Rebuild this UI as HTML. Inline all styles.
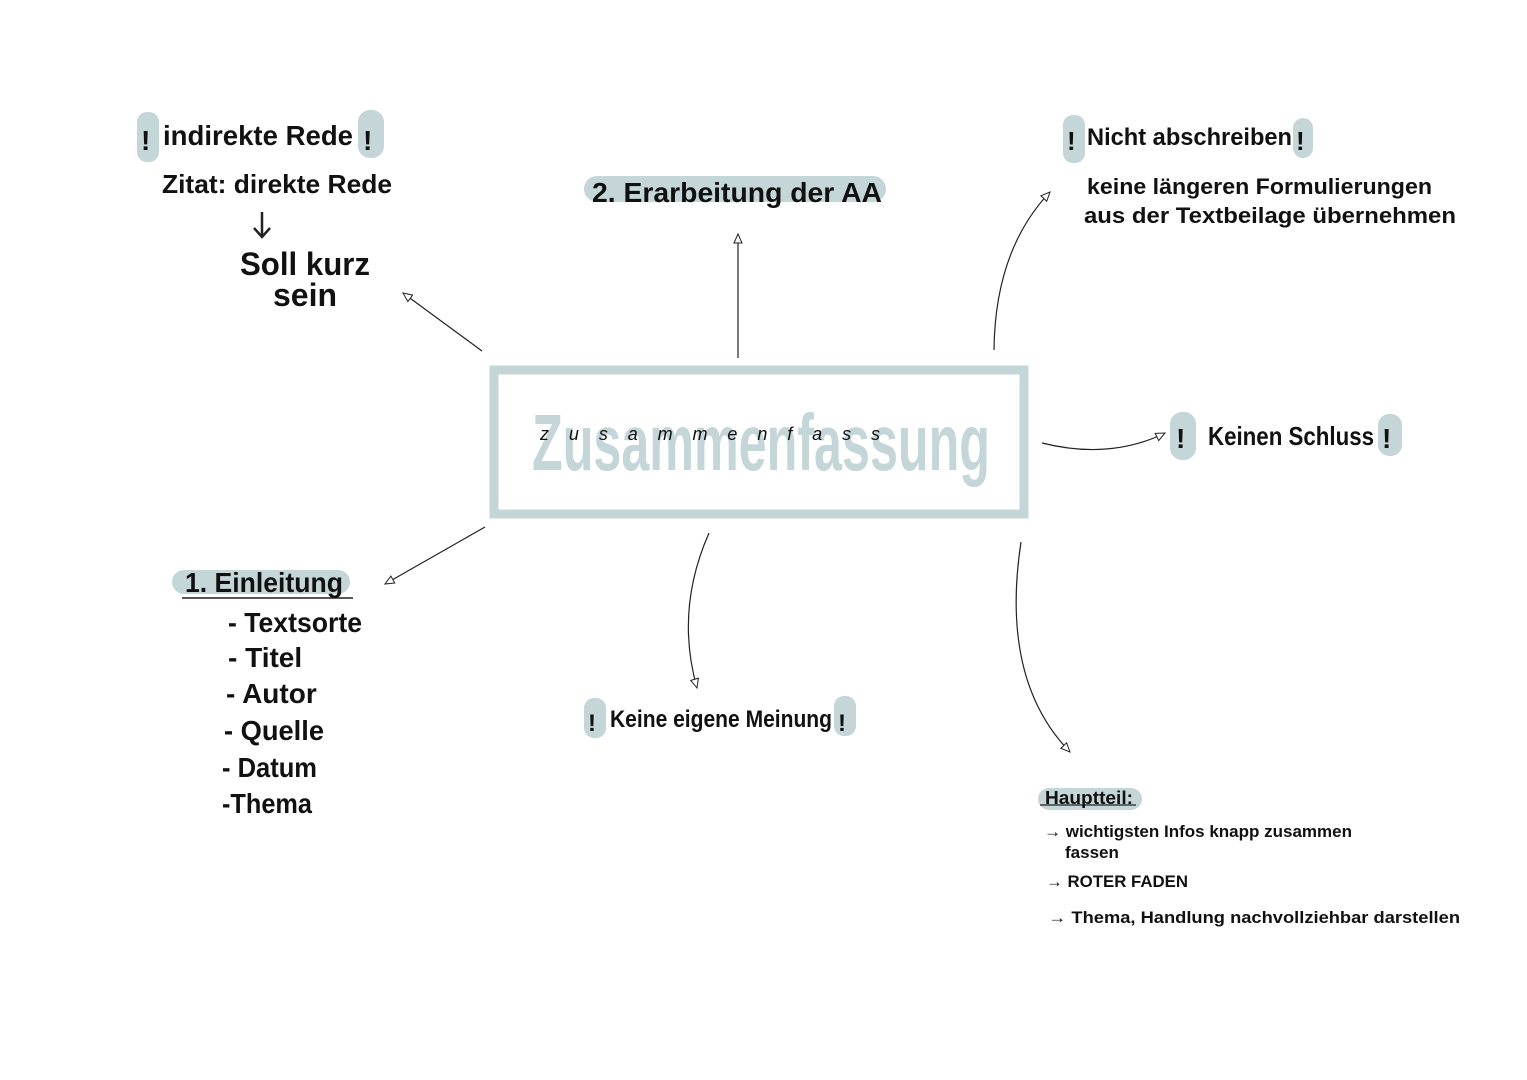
<!DOCTYPE html>
<html><head><meta charset="utf-8"><style>
html,body{margin:0;padding:0;background:#fff;}
svg{display:block}
text{font-family:"Liberation Sans",sans-serif;fill:#111;}
</style></head><body>
<svg width="1527" height="1080" viewBox="0 0 1527 1080" xmlns="http://www.w3.org/2000/svg">
<defs>
<marker id="a" markerWidth="12" markerHeight="12" refX="10" refY="5" orient="auto" markerUnits="userSpaceOnUse">
<path d="M1,1 L10,5 L1,9 Z" fill="#fff" stroke="#222" stroke-width="1"/></marker>
</defs>
<g fill="#c4d6d8">
<rect x="137" y="112" width="22" height="50" rx="10"/>
<rect x="358" y="110" width="26" height="48" rx="12"/>
<rect x="584" y="176" width="302" height="26" rx="13"/>
<rect x="1063" y="115" width="22" height="48" rx="10"/>
<rect x="1293" y="118" width="20" height="40" rx="10"/>
<rect x="1170" y="412" width="26" height="48" rx="12"/>
<rect x="1378" y="414" width="24" height="42" rx="11"/>
<rect x="172" y="570" width="178" height="24" rx="12"/>
<rect x="584" y="698" width="22" height="40" rx="10"/>
<rect x="834" y="696" width="22" height="40" rx="10"/>
<rect x="1038" y="788" width="104" height="22" rx="11"/>
</g>
<rect x="494" y="370" width="530" height="144" fill="none" stroke="#c4d6d8" stroke-width="9"/>
<text x="532" y="470" font-size="80" font-weight="bold" style="fill:#c4d6d8" textLength="458" lengthAdjust="spacingAndGlyphs">Zusammenfassung</text>
<text x="540" y="440" font-size="18" font-style="italic" fill="#333" textLength="340" lengthAdjust="spacing">zusammenfass</text>
<g stroke="#222" stroke-width="1.2" fill="none">
<path d="M482 351 L403 293" marker-end="url(#a)"/>
<path d="M738 358 L738 234" marker-end="url(#a)"/>
<path d="M994 350 Q995 250 1050 192" marker-end="url(#a)"/>
<path d="M1042 443 Q1110 460 1165 433" marker-end="url(#a)"/>
<path d="M485 527 L385 584" marker-end="url(#a)"/>
<path d="M709 533 Q675 610 697 688" marker-end="url(#a)"/>
<path d="M1021 542 Q1000 680 1070 752" marker-end="url(#a)"/>
<path d="M182 598 L353 598" stroke-width="1.5"/>
<path d="M262 212 L262 236 M254 228 L262 237 L270 228" stroke-width="2.5"/>
<path d="M1040 805 L1136 805"/>
</g>
<g font-weight="bold">
<text x="141" y="150" font-size="28">!</text>
<text x="163" y="145" font-size="28" textLength="190" lengthAdjust="spacingAndGlyphs">indirekte Rede</text>
<text x="363" y="150" font-size="28">!</text>
<text x="162" y="193" font-size="26" textLength="230" lengthAdjust="spacingAndGlyphs">Zitat: direkte Rede</text>
<text x="240" y="275" font-size="32" textLength="130" lengthAdjust="spacingAndGlyphs">Soll kurz</text>
<text x="273" y="306" font-size="32">sein</text>
<text x="592" y="202" font-size="28" textLength="290" lengthAdjust="spacingAndGlyphs">2. Erarbeitung der AA</text>
<text x="1067" y="150" font-size="26">!</text>
<text x="1087" y="145" font-size="24" textLength="205" lengthAdjust="spacingAndGlyphs">Nicht abschreiben</text>
<text x="1296" y="150" font-size="26">!</text>
<text x="1087" y="194" font-size="22" textLength="345" lengthAdjust="spacingAndGlyphs">keine längeren Formulierungen</text>
<text x="1084" y="223" font-size="22" textLength="372" lengthAdjust="spacingAndGlyphs">aus der Textbeilage übernehmen</text>
<text x="1176" y="448" font-size="28">!</text>
<text x="1208" y="445" font-size="26" textLength="166" lengthAdjust="spacingAndGlyphs">Keinen Schluss</text>
<text x="1382" y="448" font-size="28">!</text>
<text x="185" y="592" font-size="28" textLength="158" lengthAdjust="spacingAndGlyphs">1. Einleitung</text>
<text x="228" y="632" font-size="28" textLength="134" lengthAdjust="spacingAndGlyphs">- Textsorte</text>
<text x="228" y="667" font-size="28">- Titel</text>
<text x="226" y="703" font-size="28">- Autor</text>
<text x="224" y="740" font-size="28" textLength="100" lengthAdjust="spacingAndGlyphs">- Quelle</text>
<text x="222" y="777" font-size="28" textLength="95" lengthAdjust="spacingAndGlyphs">- Datum</text>
<text x="222" y="813" font-size="28" textLength="90" lengthAdjust="spacingAndGlyphs">-Thema</text>
<text x="588" y="731" font-size="24">!</text>
<text x="610" y="727" font-size="24" textLength="222" lengthAdjust="spacingAndGlyphs">Keine eigene Meinung</text>
<text x="838" y="731" font-size="24">!</text>
<text x="1045" y="804" font-size="18" textLength="88" lengthAdjust="spacingAndGlyphs">Hauptteil:</text>
<text x="1044" y="837" font-size="17" textLength="308" lengthAdjust="spacingAndGlyphs">→ wichtigsten Infos knapp zusammen</text>
<text x="1065" y="858" font-size="17">fassen</text>
<text x="1046" y="887" font-size="17" textLength="142" lengthAdjust="spacingAndGlyphs">→ ROTER FADEN</text>
<text x="1048" y="923" font-size="17" textLength="412" lengthAdjust="spacingAndGlyphs">→ Thema, Handlung nachvollziehbar darstellen</text>
</g>
</svg>
</body></html>
